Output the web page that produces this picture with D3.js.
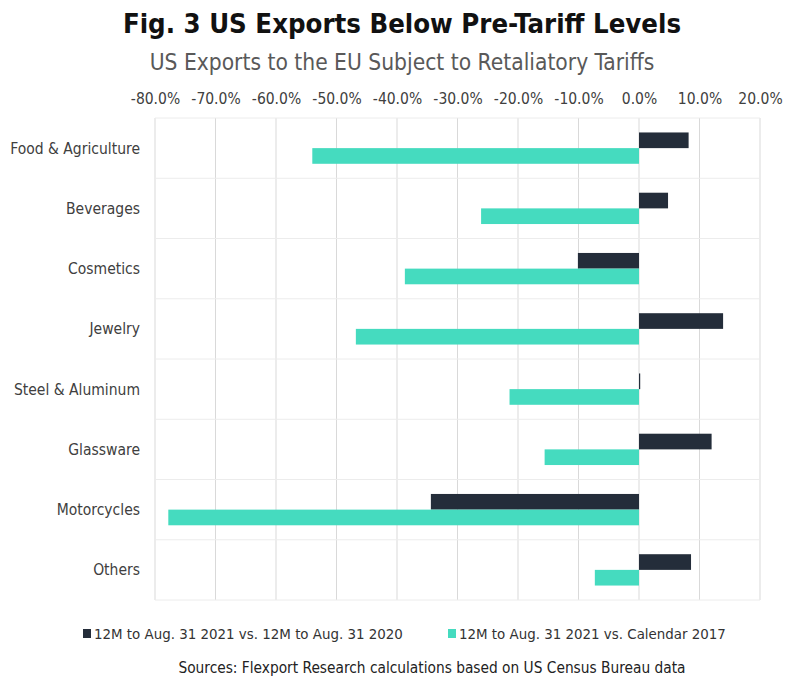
<!DOCTYPE html>
<html>
<head>
<meta charset="utf-8">
<script src="https://cdn.jsdelivr.net/npm/d3@7"></script>
<style>
  body { margin: 0; background: #fff; }
  svg text { font-family: "Liberation Sans Narrow", "DejaVu Sans Condensed", "Roboto", sans-serif; }
</style>
</head>
<body>
<div id="vis"></div>
<script>
// data
const categories = ["Food & Agriculture", "Beverages", "Cosmetics", "Jewelry",
  "Steel & Aluminum", "Glassware", "Motorcycles", "Others"];
const vs2020 = [8.2, 4.8, -10.1, 13.9, 0.2, 12.0, -34.4, 8.6];
const vs2017 = [-54.0, -26.1, -38.7, -46.8, -21.4, -15.6, -77.8, -7.3];
const seriesNames = ["12M to Aug. 31 2021 vs. 12M to Aug. 31 2020",
  "12M to Aug. 31 2021 vs. Calendar 2017"];
const tickValues = [-80, -70, -60, -50, -40, -30, -20, -10, 0, 10, 20];

const colors = ["#242d3a", "#45dbbf"];
const width = 800, height = 693;
const margin = { top: 118, right: 40, bottom: 93, left: 155 };

const svg = d3.select("#vis").append("svg")
  .attr("width", width)
  .attr("height", height);

const x = d3.scaleLinear()
  .domain([-80, 20])
  .range([margin.left, width - margin.right]);

const y = d3.scaleBand()
  .domain(categories)
  .range([margin.top, height - margin.bottom])
  .paddingInner(0.48)
  .paddingOuter(0.24);

const sub = d3.scaleBand()
  .domain([0, 1])
  .range([0, y.bandwidth()]);

// titles
svg.append("text")
  .attr("x", 402).attr("y", 33)
  .attr("text-anchor", "middle")
  .attr("font-size", 27.3).attr("font-weight", "bold")
  .attr("fill", "#111")
  .text("Fig. 3 US Exports Below Pre-Tariff Levels");

svg.append("text")
  .attr("x", 402).attr("y", 70)
  .attr("text-anchor", "middle")
  .attr("font-size", 22.6)
  .attr("fill", "#595959")
  .text("US Exports to the EU Subject to Retaliatory Tariffs");

// grid
const step = y.step();
const grid = svg.append("g").attr("class", "grid");
grid.selectAll("line.v")
  .data(tickValues)
  .join("line")
  .attr("class", "v")
  .attr("x1", d => x(d)).attr("x2", d => x(d))
  .attr("y1", margin.top).attr("y2", height - margin.bottom)
  .attr("stroke", "#d9d9d9").attr("stroke-width", 1);

grid.selectAll("line.h")
  .data(d3.range(categories.length + 1))
  .join("line")
  .attr("class", "h")
  .attr("x1", x(-80)).attr("x2", x(20))
  .attr("y1", i => margin.top + i * step).attr("y2", i => margin.top + i * step)
  .attr("stroke", "#ececec").attr("stroke-width", 1);

// top axis
const xAxis = d3.axisTop(x)
  .tickValues(tickValues)
  .tickSize(0)
  .tickPadding(0)
  .tickFormat(d => d.toFixed(1) + "%");

svg.append("g")
  .attr("transform", "translate(0," + 104 + ")")
  .call(xAxis)
  .call(g => g.select(".domain").remove())
  .selectAll("text")
  .attr("font-size", 15.5)
  .attr("fill", "#404040")
  .style("font-family", "Liberation Sans Narrow, DejaVu Sans Condensed, sans-serif");

// category labels
svg.append("g")
  .selectAll("text")
  .data(categories)
  .join("text")
  .attr("x", 140)
  .attr("y", d => y(d) + y.bandwidth() / 2)
  .attr("dy", "0.35em")
  .attr("text-anchor", "end")
  .attr("font-size", 15.5)
  .attr("fill", "#404040")
  .text(d => d);

// bars
const rows = categories.map((c, i) => ({ cat: c, vals: [vs2020[i], vs2017[i]] }));
const groups = svg.append("g")
  .selectAll("g")
  .data(rows)
  .join("g")
  .attr("transform", d => "translate(0," + y(d.cat) + ")");

groups.selectAll("rect")
  .data(d => d.vals.map((v, k) => ({ v: v, k: k })))
  .join("rect")
  .attr("x", d => x(Math.min(0, d.v)))
  .attr("width", d => Math.max(1, Math.abs(x(d.v) - x(0))))
  .attr("y", d => sub(d.k))
  .attr("height", sub.bandwidth())
  .attr("fill", d => colors[d.k]);

// legend
const legendItems = [
  { name: seriesNames[0], color: colors[0], x: 83 },
  { name: seriesNames[1], color: colors[1], x: 448 }
];
const legend = svg.append("g")
  .selectAll("g")
  .data(legendItems)
  .join("g")
  .attr("transform", d => "translate(" + d.x + "," + 634 + ")");

legend.append("rect")
  .attr("x", 0).attr("y", -5)
  .attr("width", 8).attr("height", 9)
  .attr("fill", d => d.color);

legend.append("text")
  .attr("x", 11).attr("y", 0)
  .attr("dy", "0.35em")
  .attr("font-size", 14.9)
  .attr("fill", "#333")
  .text(d => d.name);

// source
svg.append("text")
  .attr("x", 432).attr("y", 673)
  .attr("text-anchor", "middle")
  .attr("font-size", 15.3)
  .attr("fill", "#222")
  .text("Sources: Flexport Research calculations based on US Census Bureau data");
</script>
</body>
</html>
